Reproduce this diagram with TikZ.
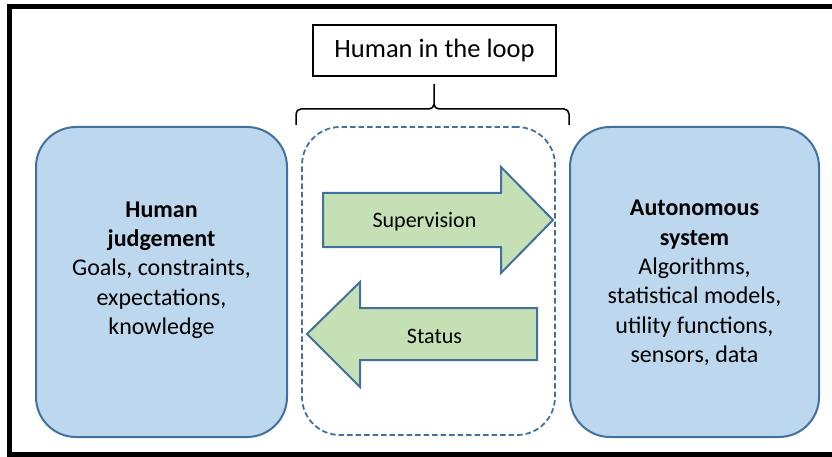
\documentclass[tikz,border=0pt]{standalone}
\usepackage{fontspec}
\setmainfont{Carlito}
\definecolor{boxfill}{HTML}{BDD7EE}
\definecolor{edgeblue}{HTML}{41719C}
\definecolor{arrowfill}{HTML}{C5E0B4}
\begin{document}
\begin{tikzpicture}[x=1pt,y=-1pt,
  agentbox/.style={draw=edgeblue, fill=boxfill, line width=2pt, rounded corners=40pt, inner sep=0pt},
  loopbox/.style={draw=edgeblue, line width=1.8pt, dash pattern=on 5.5pt off 3pt, rounded corners=38pt, inner sep=0pt},
  flowarrow/.style={draw=edgeblue, fill=arrowfill, line width=2pt, line join=miter},
  bodytext/.style={align=center, font=\fontsize{24}{29.3}\selectfont, inner sep=0pt},
  arrowtext/.style={font=\fontsize{22}{26}\selectfont, inner sep=0pt},
  titlebox/.style={draw=black, line width=1.5pt, inner sep=0pt, minimum width=243pt, minimum height=51pt, font=\fontsize{26.5}{30}\selectfont},
  bracket/.style={draw=black, line width=1.5pt}]
\useasboundingbox (0,0) rectangle (832,457);
\clip (0,0) rectangle (832,457);

% outer frame
\draw[line width=5pt] (9.5,6.5) rectangle (870,454.5);

% title and brace
\node[titlebox] (title) at (434.5,50.5) {Human in the loop};
\coordinate (braceL) at (296,125);
\coordinate (braceR) at (569,125);
\coordinate (braceTip) at (434,84);
\draw[bracket] (braceL) -- (296,114) to[out=90,in=180] (301,109) -- (429,109)
  to[out=0,in=-90] (434,104) -- (braceTip);
\draw[bracket] (434,104) to[out=-90,in=180] (439,109) -- (564,109)
  to[out=0,in=90] (569,114) -- (braceR);

% the two agents and the loop between them
\node[agentbox, minimum width=251pt, minimum height=310pt] (human) at (161.5,282) {};
\node[agentbox, minimum width=249pt, minimum height=310pt] (auto) at (694.5,282) {};
\node[loopbox, minimum width=253pt, minimum height=308pt] (loop) at (428.5,281) {};

\node[bodytext] (humantext) at (161.5,270) {\textbf{Human}\\\textbf{judgement}\\Goals, constraints,\\expectations,\\knowledge};
\node[bodytext] (autotext) at (694.5,283) {\textbf{Autonomous}\\\textbf{system}\\Algorithms,\\statistical models,\\utility functions,\\sensors, data};

% block arrows
\draw[flowarrow] (323,193) -- (501,193) -- (501,167) -- (553,220) -- (501,273) -- (501,247) -- (323,247) -- cycle;
\node[arrowtext] (supervision) at (424.5,222) {Supervision};

\draw[flowarrow] (537,308) -- (360,308) -- (360,282) -- (307,334) -- (360,387) -- (360,360) -- (537,360) -- cycle;
\node[arrowtext] (status) at (434.5,336) {Status};
\end{tikzpicture}
\end{document}
